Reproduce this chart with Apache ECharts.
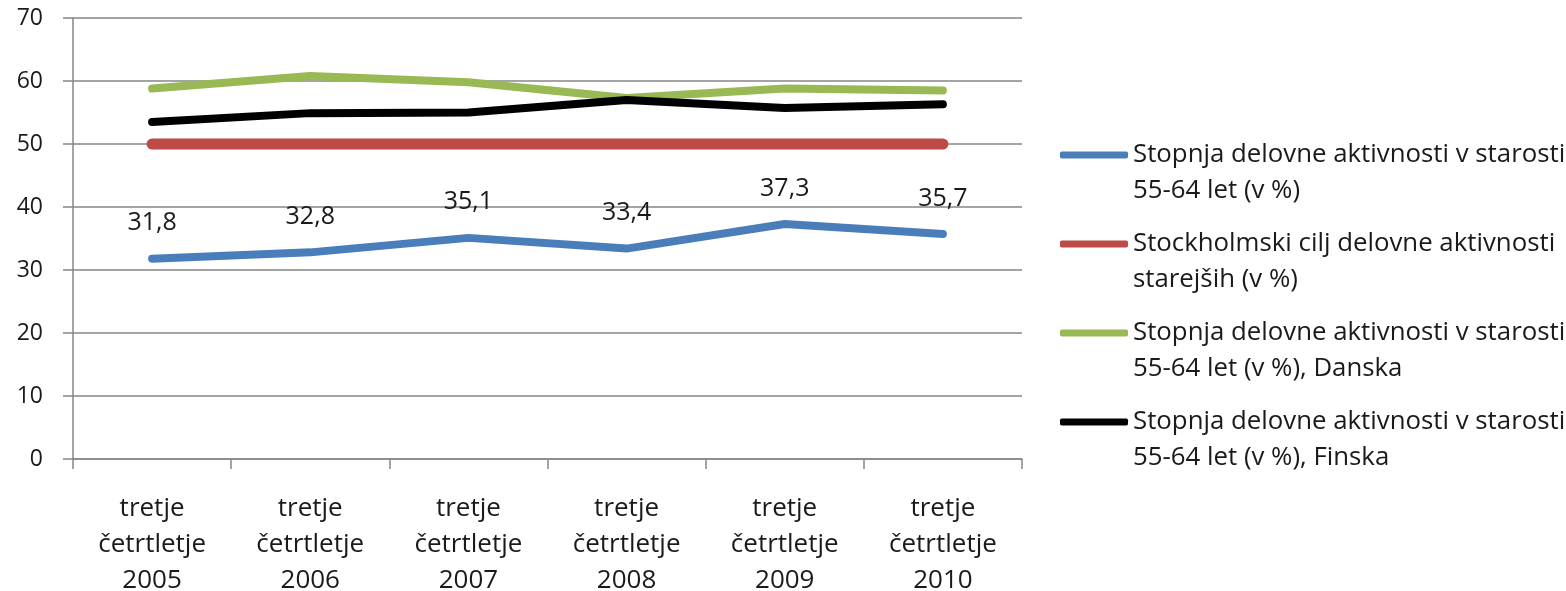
<!DOCTYPE html>
<html>
<head>
<meta charset="utf-8">
<script src="https://cdn.jsdelivr.net/npm/echarts@6/dist/echarts.min.js"></script>
<style>
html,body{margin:0;padding:0;background:#fff;}
#chart{width:1566px;height:591px;}
</style>
</head>
<body>
<div id="chart"></div>
<script>
const categories = ["tretje\nčetrtletje\n2005","tretje\nčetrtletje\n2006","tretje\nčetrtletje\n2007","tretje\nčetrtletje\n2008","tretje\nčetrtletje\n2009","tretje\nčetrtletje\n2010"];
const seriesNames = [
  "Stopnja delovne aktivnosti v starosti\n55-64 let (v %)",
  "Stockholmski cilj delovne aktivnosti\nstarejših (v %)",
  "Stopnja delovne aktivnosti v starosti\n55-64 let (v %), Danska",
  "Stopnja delovne aktivnosti v starosti\n55-64 let (v %), Finska"
];
const slovenija = [31.8, 32.8, 35.1, 33.4, 37.3, 35.7];
const stockholm = [50, 50, 50, 50, 50, 50];
const danska = [58.8, 60.8, 59.8, 57.3, 58.8, 58.5];
const finska = [53.5, 54.9, 55.0, 57.0, 55.7, 56.3];
const yTicks = {min: 0, max: 70, interval: 10};

const FONT = 'Open Sans';
const TXT = '#1a1a1a';
const chart = echarts.init(document.getElementById('chart'), null, {renderer: 'canvas'});
function mk(name, data, color, width, withLabel) {
  return {
    name: name, type: 'line', data: data,
    symbol: 'circle', symbolSize: 0.01, showSymbol: true, smooth: false,
    lineStyle: {color: color, width: width, cap: 'round', join: 'round'},
    itemStyle: {color: color},
    label: withLabel ? {
      show: true, position: 'top', distance: 23,
      fontFamily: FONT, fontSize: 25, color: TXT,
      formatter: p => String(p.value).replace('.', ',')
    } : {show: false},
    emphasis: {disabled: true},
    animation: false
  };
}
chart.setOption({
  animation: false,
  grid: {left: 73, right: 544, top: 18, bottom: 132, containLabel: false, outerBoundsMode: 'none'},
  legend: {
    orient: 'vertical', left: 1055, top: 96,
    icon: 'roundRect',
    itemWidth: 68, itemHeight: 7, itemGap: -19,
    formatter: name => ' \n' + name,
    textStyle: {fontFamily: FONT, fontSize: 25.8, color: TXT, lineHeight: 36},
    data: seriesNames
  },
  xAxis: {
    type: 'category', data: categories, boundaryGap: true,
    axisLine: {lineStyle: {color: '#868686', width: 1.5}},
    axisTick: {show: true, length: 10, interval: 0, lineStyle: {color: '#868686', width: 1.5}},
    axisLabel: {interval: 0, margin: 32, fontFamily: FONT, fontSize: 26, color: TXT, lineHeight: 36}
  },
  yAxis: {
    type: 'value', min: yTicks.min, max: yTicks.max, interval: yTicks.interval,
    axisLine: {show: true, lineStyle: {color: '#868686', width: 1.5}},
    axisTick: {show: true, length: 10, lineStyle: {color: '#868686', width: 1.5}},
    axisLabel: {margin: 30, fontFamily: FONT, fontSize: 23, color: TXT},
    splitLine: {lineStyle: {color: '#868686', width: 1.5}}
  },
  series: [
    mk(seriesNames[0], slovenija, '#4A7EBB', 8, true),
    mk(seriesNames[1], stockholm, '#BE4B48', 11, false),
    mk(seriesNames[2], danska, '#98B954', 8, false),
    mk(seriesNames[3], finska, '#000000', 8, false)
  ]
});
</script>
</body>
</html>
